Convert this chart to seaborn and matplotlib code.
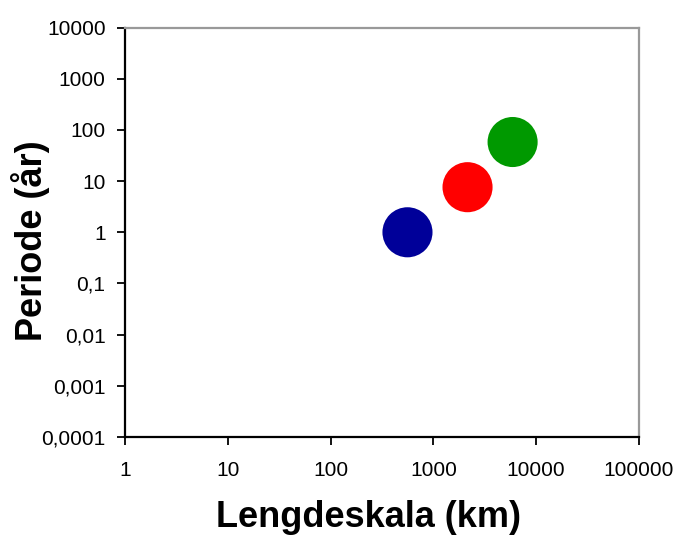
import matplotlib
matplotlib.use("Agg")
import matplotlib.pyplot as plt
import matplotlib.ticker as mticker
import seaborn as sns
import pandas as pd

# Three phenomena: length scale (km) vs. period (years)
phenomena = ["A", "B", "C"]
length_km = [560, 2150, 5900]
period_yr = [1.0, 7.6, 58]
colors = ["#000099", "#FF0000", "#009900"]

x_ticks = [1, 10, 100, 1000, 10000, 100000]
y_ticks = [0.0001, 0.001, 0.01, 0.1, 1, 10, 100, 1000, 10000]
y_tick_labels = ["0,0001", "0,001", "0,01", "0,1", "1", "10", "100", "1000", "10000"]
x_tick_labels = ["1", "10", "100", "1000", "10000", "100000"]

df = pd.DataFrame({"phenomenon": phenomena, "length": length_km, "period": period_yr})

sns.set_style("white")
plt.rcParams["font.family"] = ["Liberation Sans", "DejaVu Sans"]
plt.rcParams["text.color"] = "black"
plt.rcParams["axes.labelcolor"] = "black"
plt.rcParams["xtick.color"] = "black"
plt.rcParams["ytick.color"] = "black"

fig = plt.figure(figsize=(6.77, 5.40), dpi=100)
ax = fig.add_axes([0.1846, 0.1907, 0.7592, 0.7583])

sns.scatterplot(data=df, x="length", y="period", hue="phenomenon",
                palette=colors, s=1300, linewidth=0, legend=False, ax=ax,
                zorder=3, clip_on=False)

ax.set_xscale("log")
ax.set_yscale("log")
ax.set_xlim(1, 100000)
ax.set_ylim(0.0001, 10000)

ax.xaxis.set_major_locator(mticker.FixedLocator(x_ticks))
ax.xaxis.set_major_formatter(mticker.FixedFormatter(x_tick_labels))
ax.xaxis.set_minor_locator(mticker.NullLocator())
ax.yaxis.set_major_locator(mticker.FixedLocator(y_ticks))
ax.yaxis.set_major_formatter(mticker.FixedFormatter(y_tick_labels))
ax.yaxis.set_minor_locator(mticker.NullLocator())

ax.tick_params(axis="both", which="major", direction="out", length=6, width=1.3,
               color="black", labelcolor="black", labelsize=15, bottom=True, left=True)
ax.tick_params(axis="x", pad=11)
ax.tick_params(axis="y", pad=8)

for side in ["left", "bottom"]:
    ax.spines[side].set_color("black")
    ax.spines[side].set_linewidth(1.6)
for side in ["top", "right"]:
    ax.spines[side].set_color("#999999")
    ax.spines[side].set_linewidth(1.6)

ax.set_xlabel("Lengdeskala (km)", fontsize=26, fontweight="bold", color="black")
ax.set_ylabel("Periode (år)", fontsize=26, fontweight="bold", color="black")
ax.xaxis.set_label_coords(0.473, -0.155)
ax.yaxis.set_label_coords(-0.146, 0.479)

fig.savefig("out.png", dpi=100, facecolor="white")
